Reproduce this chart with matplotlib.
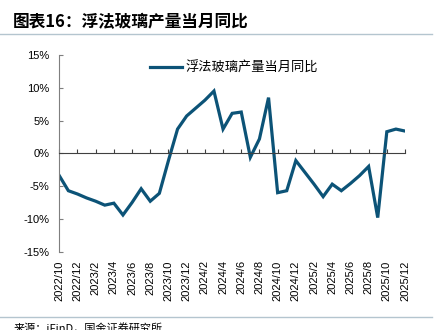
import matplotlib.pyplot as plt
from matplotlib.lines import Line2D

plt.rcParams['font.family'] = ['Liberation Sans', 'Noto Sans CJK SC', 'DejaVu Sans']

# 2022/10 .. 2025/12, monthly
months = []
for y in range(2022, 2026):
    for m in range(1, 13):
        if (y, m) >= (2022, 10):
            months.append(f"{y}/{m}")

yoy = [-3.4, -5.7, -6.2, -6.8, -7.3, -7.9, -7.6, -9.4, -7.5, -5.4,
       -7.3, -6.1, -1.1, 3.7, 5.7, 6.9, 8.1, 9.5, 3.7, 6.1,
       6.3, -0.6, 2.2, 8.5, -6.0, -5.7, -1.1, -2.9, -4.7, -6.6,
       -4.7, -5.7, -4.6, -3.4, -2.0, -9.8, 3.3, 3.7, 3.4]

series_name = '浮法玻璃产量当月同比'
line_color = '#0c5377'

fig = plt.figure(figsize=(4.39, 3.3), dpi=100)
ax = fig.add_axes([0.135, 0.2373, 0.7876, 0.5960])

x = list(range(len(months)))
ax.plot(x, yoy, color=line_color, lw=2.3, solid_joinstyle='miter')

# x axis line sits at 0, labels stay under the plot
for s in ['top', 'right']:
    ax.spines[s].set_visible(False)
ax.spines['left'].set_color('#7f7f7f')
ax.spines['bottom'].set_position(('data', 0))
ax.spines['bottom'].set_color('#404040')

ax.set_xlim(0, len(months) - 1)
ax.set_ylim(-15, 15)
ax.set_yticks(range(-15, 16, 5))
ax.set_yticklabels([f"{v}%" for v in range(-15, 16, 5)])
ax.set_xticks(x[::2])
ax.set_xticklabels(months[::2], rotation=90, va='top', ha='center')
ax.tick_params(axis='y', direction='in', length=3, color='#7f7f7f', labelsize=8, pad=7)
ax.tick_params(axis='x', direction='in', length=3, color='#404040', labelsize=8, pad=77)

leg = ax.legend([Line2D([0], [0], color=line_color, lw=2.3)], [series_name],
                loc='center left', bbox_to_anchor=(0.315, 1 - 68 / 330),
                bbox_transform=fig.transFigure, frameon=False,
                handlelength=2.4, handletextpad=0.3,
                prop={'family': ['Noto Sans CJK SC'], 'size': 9.5})

fig.text(0.03, 1 - 22 / 330, '图表16：浮法玻璃产量当月同比', fontsize=12, fontweight='bold',
         va='center', ha='left', family=['Noto Sans CJK SC', 'DejaVu Sans'])
fig.add_artist(Line2D([0, 0.984], [1 - 34 / 330] * 2, color='#b4c5cf', lw=1))
fig.add_artist(Line2D([0, 0.984], [1 - 317 / 330] * 2, color='#b4c5cf', lw=1))
fig.text(0.03, 1 - 323 / 330, '来源：iFinD，国金证券研究所', fontsize=8, va='top', ha='left',
         family=['Noto Sans CJK SC', 'DejaVu Sans'])

fig.savefig('out.png', dpi=100)
